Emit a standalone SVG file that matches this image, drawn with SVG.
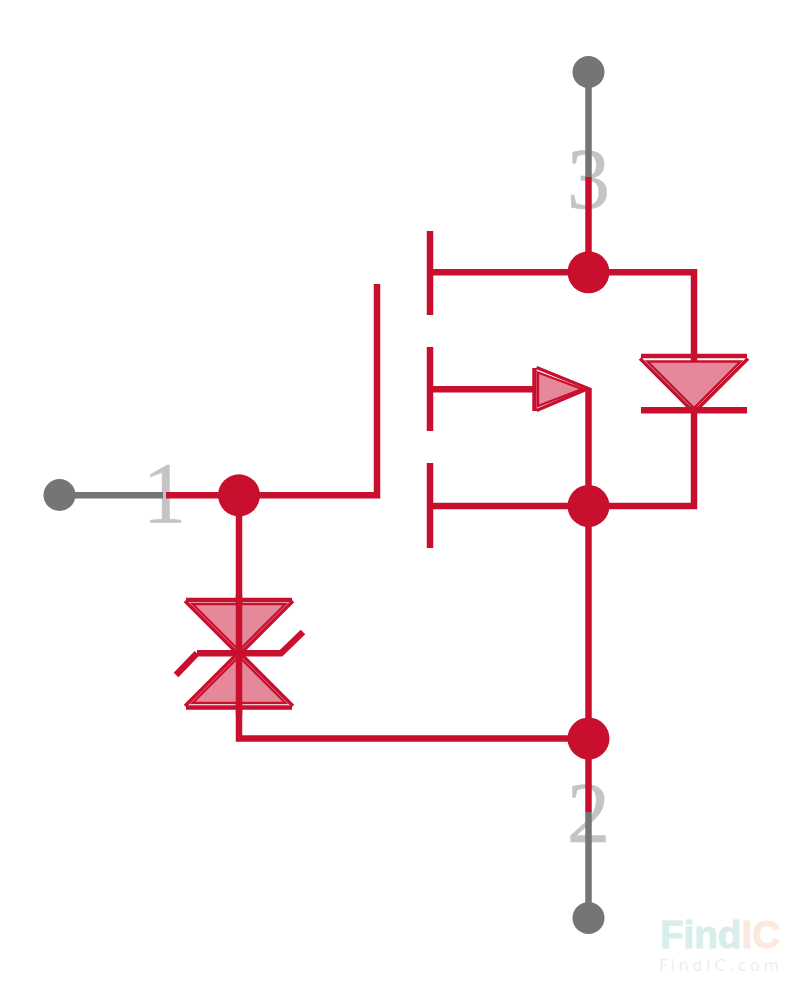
<svg xmlns="http://www.w3.org/2000/svg" width="800" height="990" viewBox="0 0 800 990">
<style>
.w{fill:none;stroke:#c8102e;stroke-width:6.5;stroke-linecap:butt;stroke-linejoin:miter}
.b{fill:none;stroke:#c8102e;stroke-width:4.5}
.o{fill:none;stroke:#c8102e;stroke-width:3.5;stroke-linejoin:miter}
.t{fill:#e58899;stroke:#c8102e;stroke-width:2.4;stroke-linejoin:miter}
.p{fill:none;stroke:#757575;stroke-width:6.5}
.pd{fill:#757575}
.j{fill:#c8102e}
.n{font-family:"Liberation Serif",serif;font-size:86px;fill:#c4c4c4;stroke:#c4c4c4;stroke-width:.6}
</style>
<rect width="800" height="990" fill="#fff"/>
<g id="pin-1"><text class="n" x="143" y="522">1</text><circle class="pd" cx="59.5" cy="495" r="16"/></g>
<g id="pin-3"><text class="n" x="567" y="208">3</text><circle class="pd" cx="588.5" cy="72" r="16"/></g>
<g id="pin-2"><text class="n" x="567" y="842">2</text><circle class="pd" cx="588.5" cy="918" r="16"/></g>
<g id="connectors">
<path class="p" d="M59 495.3H163M588.5 72V177M588.5 918V812"/>
<path class="w" d="M166 495.3H377V284M239 495V738.5H588M588.5 177V272M430 272.3H694V506H430M588.5 389V812M430 389.3H534"/>
<path class="w" d="M430 231V315M430 347V431M430 463V548"/>
</g>
<g id="zener">
<path class="o" d="M185 601L239 655L293 601M185 706L239 652L293 706"/>
<path class="t" d="M192.5 604H285.5L239 650.5Z"/>
<path class="t" d="M192.5 703H285.5L239 656.5Z"/>
<path class="w" d="M239 595V715"/>
<path class="w" d="M197 653.3H281L303 632M197 653.3L176 675"/>
<path class="b" d="M186 600H292M186 707.5H292"/>
</g>
<g id="body-diode">
<path class="o" d="M640 358.5L694 412.5L748 358.5"/>
<path class="t" d="M647.5 361.5H740.5L694 408Z"/>
<path class="b" d="M641 356H747"/>
<path class="w" d="M641 410.3H747"/>
</g>
<g id="channel-arrow">
<path class="o" d="M536.5 367.5L588 388.5L536.5 410.5"/>
<path class="t" d="M538 372.5L582 389L538 406Z"/>
<path class="b" d="M534.5 368V411" stroke-width="3"/>
</g>
<g id="junction-gate"><circle class="j" cx="239" cy="495.3" r="21"/></g>
<g id="junction-drain"><circle class="j" cx="588.5" cy="272.3" r="21"/></g>
<g id="junction-source"><circle class="j" cx="588.5" cy="506" r="21"/></g>
<g id="junction-bottom"><circle class="j" cx="588.5" cy="738.5" r="21"/></g>
<g id="watermark">
<text x="660" y="948" font-family="'Liberation Sans',sans-serif" font-weight="700" font-size="38" stroke-width="1" textLength="120" lengthAdjust="spacingAndGlyphs"><tspan fill="#d7eeea" stroke="#d7eeea">Find</tspan><tspan fill="#fce9dd" stroke="#fce9dd">IC</tspan></text>
<text x="659" y="971" font-family="'DejaVu Sans',sans-serif" font-size="16" fill="#eeeeee" textLength="120">FindIC.com</text>
</g>
</svg>
